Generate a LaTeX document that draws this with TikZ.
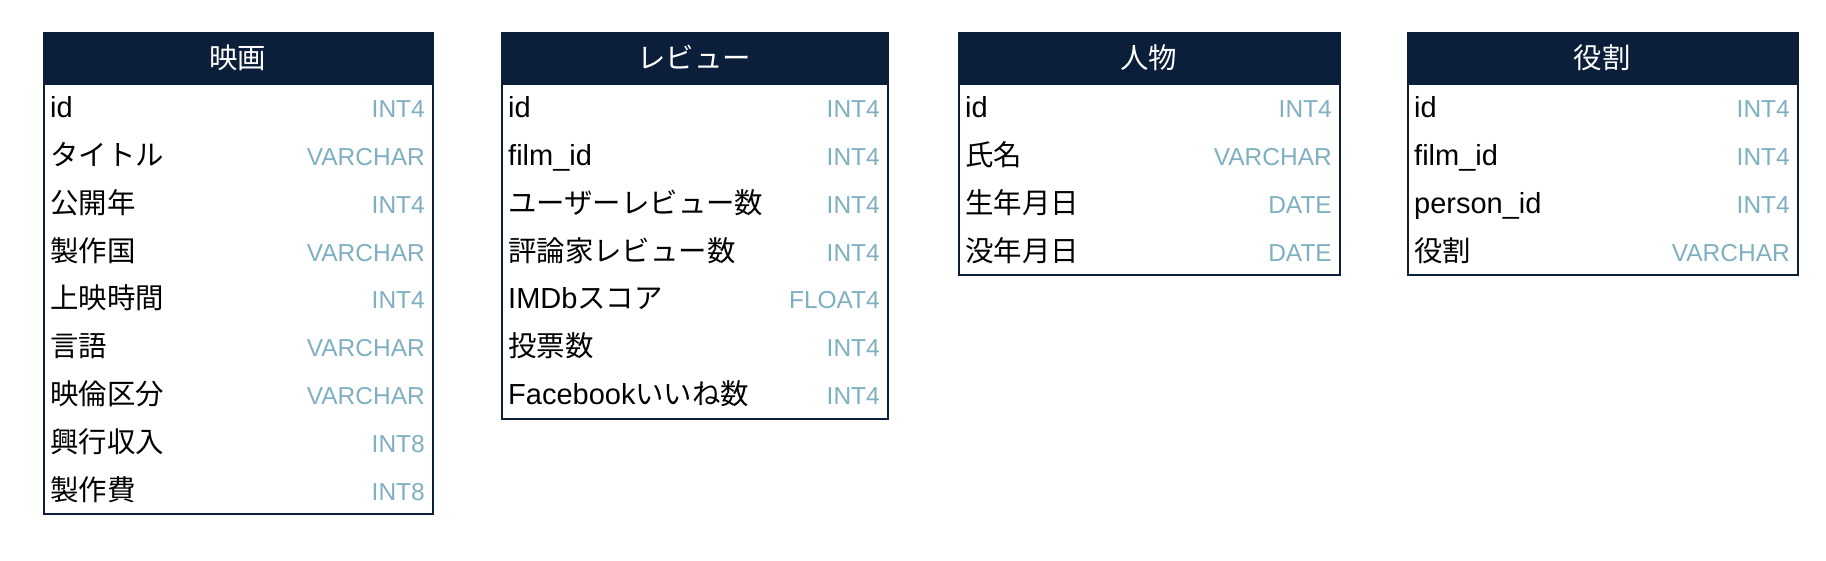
\documentclass[tikz,border=0pt]{standalone}
\usepackage{fontspec}
\setmainfont{Liberation Sans}
\newfontfamily\jp{Noto Sans CJK JP}[Scale=0.98]
\definecolor{hdr}{HTML}{0B1F3A}
\definecolor{typ}{HTML}{7FB0C2}
\tikzset{
  hdrbox/.style={fill=hdr,draw=hdr,line width=2pt,inner sep=0pt,anchor=north west},
  bodybox/.style={draw=hdr,line width=2pt,inner sep=0pt,anchor=north west},
  ttl/.style={anchor=base,text=white,font=\jp\fontsize{29}{29}\selectfont,inner sep=0pt},
  fname/.style={anchor=base west,font=\fontsize{29}{29}\selectfont,inner sep=0pt},
  ftype/.style={anchor=base east,text=typ,font=\fontsize{24.5}{24.5}\selectfont,inner sep=0pt},
}
\newcommand\erdtable[6]{%
  % #1 name, #2 left, #3 right, #4 title, #5 number of rows, #6 rows
  \pgfmathsetmacro\tblw{#3-#2}
  \pgfmathsetmacro\tblh{47.8*#5}
  \node[hdrbox,minimum width=\tblw pt,minimum height=51pt] (#1head) at (#2,32) {};
  \node[ttl] (#1title) at ({(#2+#3)/2},68.5) {#4};
  \foreach [count=\k] \n/\t in {#6} {
    \pgfmathsetmacro\yy{83+47.8*(\k-0.5)+10.8}
    \node[fname] (#1n\k) at (#2+7,\yy) {\n};
    \node[ftype] (#1t\k) at (#3-7,\yy) {\t};
  }
  \node[bodybox,minimum width=\tblw pt,minimum height=\tblh pt] (#1body) at (#2,83) {};
}
\begin{document}
\begin{tikzpicture}[x=1pt,y=-1pt]
\path[fill=white] (0,0) rectangle (1826,560);
\useasboundingbox (0,0) rectangle (1826,560);
\erdtable{a}{43}{432}{映画}{9}{id/INT4,{\jp タイトル}/VARCHAR,{\jp 公開年}/INT4,{\jp 製作国}/VARCHAR,{\jp 上映時間}/INT4,{\jp 言語}/VARCHAR,{\jp 映倫区分}/VARCHAR,{\jp 興行収入}/INT8,{\jp 製作費}/INT8}
\erdtable{b}{501}{887}{レビュー}{7}{id/INT4,film\_id/INT4,{\jp ユーザーレビュー数}/INT4,{\jp 評論家レビュー数}/INT4,{IMDb\jp スコア}/FLOAT4,{\jp 投票数}/INT4,{Facebook\jp いいね数}/INT4}
\erdtable{c}{958}{1339}{人物}{4}{id/INT4,{\jp 氏名}/VARCHAR,{\jp 生年月日}/DATE,{\jp 没年月日}/DATE}
\erdtable{d}{1407}{1797}{役割}{4}{id/INT4,film\_id/INT4,person\_id/INT4,{\jp 役割}/VARCHAR}
\end{tikzpicture}
\end{document}
